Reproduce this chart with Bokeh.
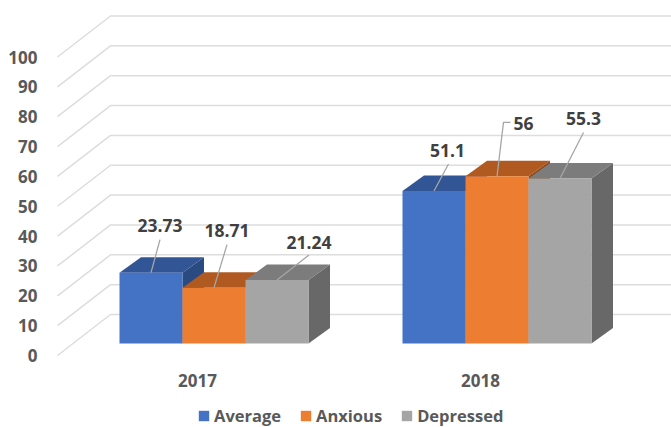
from bokeh.plotting import figure
from bokeh.models import Range1d, LinearAxis, FixedTicker, Legend, LegendItem
from bokeh.core.properties import value
from bokeh.embed import file_html
from bokeh.resources import INLINE

# ---- data
years = ["2017", "2018"]
average = [23.73, 51.1]
anxious = [18.71, 56]
depressed = [21.24, 55.3]
ticks = [0, 10, 20, 30, 40, 50, 60, 70, 80, 90, 100]

FONT = "Open Sans"
W, H = 671, 427
L = 44
PXU = 2.985          # px per value unit
PXC = 283.0          # px per category
X0 = 197.0           # px of first category
Y0 = 343.0           # px of value 0 at bar front
x_u = lambda px: (px - X0) / PXC
y_u = lambda py: (Y0 - py) / PXU

p = figure(width=W, height=H, output_backend="svg", toolbar_location=None,
           x_range=Range1d(x_u(L), x_u(W)), y_range=Range1d(y_u(H), y_u(0)),
           min_border_left=L, min_border_right=0, min_border_top=0, min_border_bottom=0,
           outline_line_color=None, background_fill_color="white", border_fill_color="white")
p.grid.visible = False
p.yaxis.visible = False
p.xaxis.visible = False

# value axis, sits lower than the bar base by the 3D floor offset
DROP = 12 / PXU
p.extra_y_ranges["tick"] = Range1d(y_u(H) + DROP, y_u(0) + DROP)
ax = LinearAxis(y_range_name="tick", ticker=FixedTicker(ticks=ticks))
ax.axis_line_color = None
ax.major_tick_line_color = None
ax.minor_tick_line_color = None
ax.major_label_standoff = 1
ax.major_label_text_font = FONT
ax.major_label_text_font_style = "bold"
ax.major_label_text_font_size = "17px"
ax.major_label_text_color = "#595959"
p.add_layout(ax, "left")

# wall / floor gridlines
WX0, WX1 = x_u(57), x_u(110)
WDY = 41 / PXU
for t in ticks:
    yf = t - DROP
    p.line([WX0, WX1, x_u(W)], [yf, yf + WDY, yf + WDY], line_color="#DDDDDD", line_width=1.5)

# bars
BW = 63.0 / PXC
GOFF = 16.5 / PXC
DX = 21.5 / PXC
DY = 15.5 / PXU
series = [("Average", average, "#4472C4", "#325596", "#2A4A82"),
          ("Anxious", anxious, "#ED7D31", "#B05A21", "#8F4A1C"),
          ("Depressed", depressed, "#A5A5A5", "#7C7C7C", "#686868")]
items = []
for s, (name, vals, front, top, side) in enumerate(series):
    lefts = [i + GOFF + (s - 1.5) * BW for i in range(len(vals))]
    rights = [l + BW for l in lefts]
    p.patches([[r, r + DX, r + DX, r] for r in rights],
              [[0, DY, v + DY, v] for v in vals],
              fill_color=side, line_color=None)
    p.patches([[l, r, r + DX, l + DX] for l, r in zip(lefts, rights)],
              [[v, v, v + DY, v + DY] for v in vals],
              fill_color=top, line_color=None)
    q = p.quad(left=lefts, right=rights, bottom=[0] * len(vals), top=vals,
               fill_color=front, line_color=None)
    items.append(LegendItem(label=name, renderers=[q]))

# data label placement: (offset of leader end from top-mid of bar, label centre), in px
leaders = {
    (0, 0): ((9, -33), (0, -14)),
    (1, 0): ((13, -43), (0, -14)),
    (2, 0): ((32, -25), (0, -13)),
    (0, 1): ((14.5, -27), (-1, -13)),
    (1, 1): ((6.5, -54), (20, 1)),
    (2, 1): ((23.5, -46), (0, -14)),
}
for s, (name, vals, *_ ) in enumerate(series):
    for i, v in enumerate(vals):
        mid = i + GOFF + (s - 1) * BW
        (lx, ly), (tx, ty) = leaders[(s, i)]
        ex, ey = mid + lx / PXC, v - ly / PXU
        xs, ys = [mid, ex], [v, ey]
        if (s, i) == (1, 1):
            xs.append(ex + 7 / PXC)
            ys.append(ey)
        p.line(xs, ys, line_color="#A6A6A6", line_width=1.3)
        p.text([ex + tx / PXC], [ey - ty / PXU], text=[str(v)],
               text_font=value(FONT), text_font_style="bold", text_font_size="17.5px",
               text_color="#404040", text_align="center", text_baseline="middle")

# category labels
p.text(list(range(len(years))), [y_u(380)] * len(years), text=years,
       text_font=value(FONT), text_font_style="bold", text_font_size="17px",
       text_color="#595959", text_align="center", text_baseline="middle")

legend = Legend(items=items, orientation="horizontal", location=(153, 0),
                border_line_color=None, background_fill_alpha=0,
                glyph_width=13, glyph_height=13, label_standoff=4, spacing=18,
                padding=0, margin=0,
                label_text_font=FONT, label_text_font_style="bold",
                label_text_font_size="16.5px", label_text_color="#595959")
p.add_layout(legend)

open("out.html", "w").write(file_html(p, INLINE))
